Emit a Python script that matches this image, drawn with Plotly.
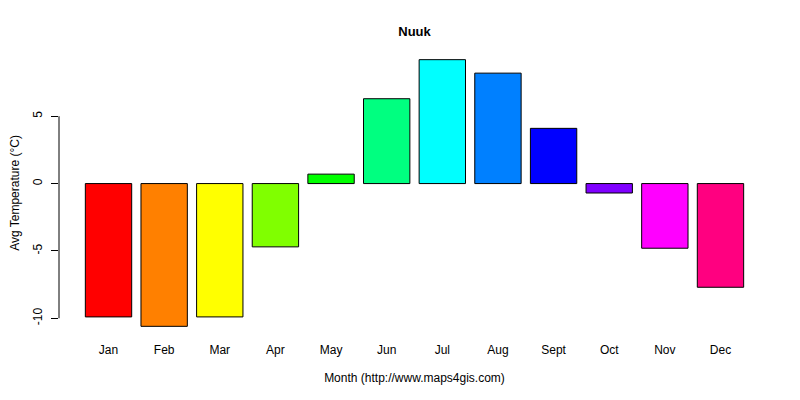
import plotly.graph_objects as go

months = ["Jan", "Feb", "Mar", "Apr", "May", "Jun",
          "Jul", "Aug", "Sept", "Oct", "Nov", "Dec"]
avg_temp = [-9.9, -10.6, -9.9, -4.7, 0.7, 6.3, 9.2, 8.2, 4.1, -0.7, -4.8, -7.7]
bar_colors = ["#FF0000", "#FF8000", "#FFFF00", "#80FF00", "#00FF00", "#00FF80",
              "#00FFFF", "#0080FF", "#0000FF", "#8000FF", "#FF00FF", "#FF0080"]
y_ticks = [-10, -5, 0, 5]
y_tick_labels = ["-10", "-5", "0", "5"]

# barplot-style positions: width 1, space 0.2
x_pos = [0.7 + 1.2 * i for i in range(len(months))]
x_lo = 0.2 - 0.04 * 14.2
x_hi = 14.4 + 0.04 * 14.2
y_lo = min(0, min(avg_temp))
y_hi = max(0, max(avg_temp))
y_pad = 0.04 * (y_hi - y_lo)

font = "Liberation Sans, Arial, sans-serif"

fig = go.Figure(
    go.Bar(
        x=x_pos,
        y=avg_temp,
        width=1,
        marker=dict(color=bar_colors, line=dict(color="black", width=1)),
        hoverinfo="x+y",
    )
)

# y axis line only spans the tick range, like base R
fig.add_shape(type="line", xref="paper", yref="y",
              x0=0, x1=0, y0=min(y_ticks), y1=max(y_ticks),
              line=dict(color="black", width=1))

# page body adds an 8px margin, so the figure is 792x392
fig.update_layout(
    width=792,
    height=392,
    paper_bgcolor="white",
    plot_bgcolor="white",
    showlegend=False,
    margin=dict(l=51, r=30, t=41, b=63),
    font=dict(family=font, size=12, color="black"),
    # R centres the title over the plot region
    title=dict(text="<b>Nuuk</b>", xref="paper", x=0.5, xanchor="center",
               yref="container", y=1 - 23 / 392, yanchor="middle",
               automargin=False, font=dict(size=13)),
    xaxis=dict(
        range=[x_lo, x_hi],
        tickvals=x_pos,
        ticktext=months,
        showline=False,
        showgrid=False,
        zeroline=False,
        ticks="",
        automargin=False,
        ticklabelstandoff=4,
        title=dict(text="Month (http://www.maps4gis.com)", standoff=17,
                   font=dict(size=12)),
    ),
    yaxis=dict(
        range=[y_lo - y_pad, y_hi + y_pad],
        tickvals=y_ticks,
        ticktext=y_tick_labels,
        showline=False,
        showgrid=False,
        zeroline=False,
        ticks="outside",
        ticklen=7,
        tickcolor="black",
        tickangle=-90,
        automargin=False,
        ticklabelstandoff=4,
        title=dict(text="Avg Temperature (°C)", standoff=14,
                   font=dict(size=12)),
    ),
)

fig.write_html("out.html")
